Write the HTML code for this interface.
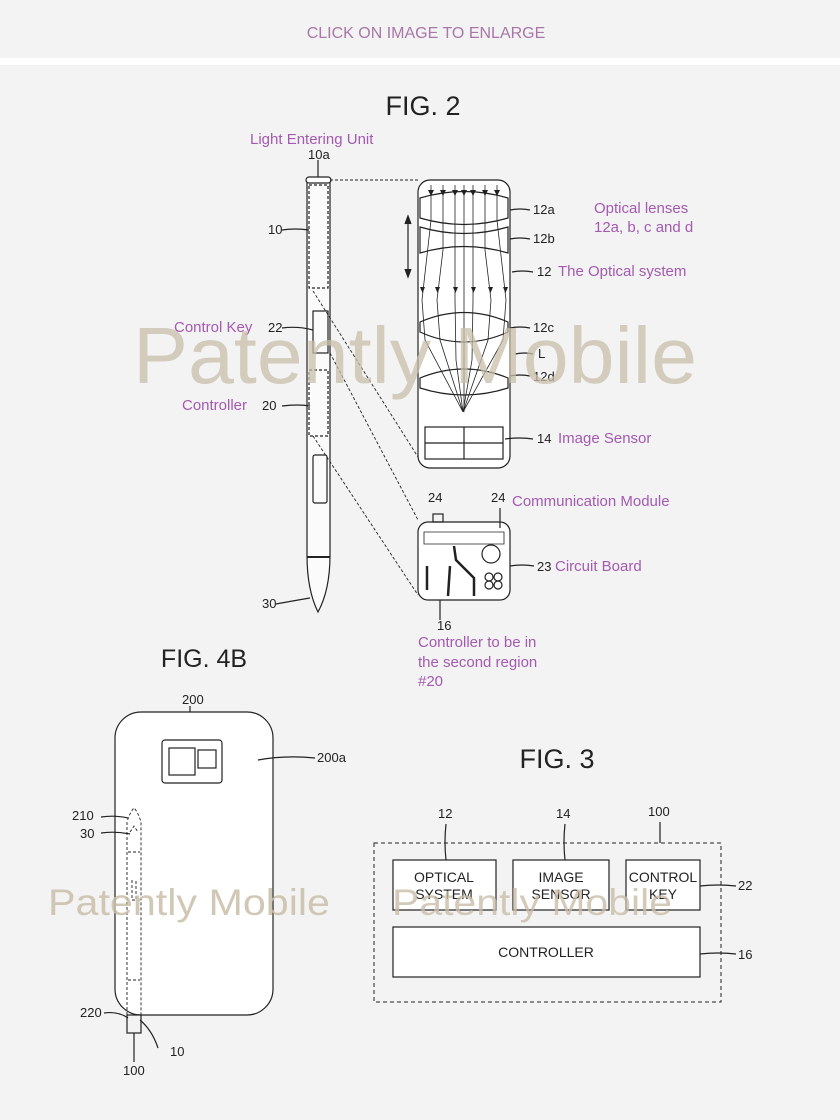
<!DOCTYPE html>
<html><head><meta charset="utf-8"><style>
html,body{margin:0;padding:0;background:#f4f3f4;}
svg{display:block}
</style></head><body>
<svg width="840" height="1120" viewBox="0 0 840 1120" xmlns="http://www.w3.org/2000/svg" font-family="Liberation Sans, sans-serif">
<rect width="840" height="1120" fill="#f4f3f4"/>
<rect y="58" width="840" height="7" fill="#ffffff"/>
<text x="426" y="38" font-size="16" fill="#a777a8" text-anchor="middle">CLICK ON IMAGE TO ENLARGE</text>
<text x="423" y="115" font-size="27" fill="#222" text-anchor="middle">FIG. 2</text>
<g fill="#a35ab0" font-size="15">
<text x="250" y="144">Light Entering Unit</text>
<text x="594" y="213">Optical lenses</text>
<text x="594" y="232">12a, b, c and d</text>
<text x="558" y="276">The Optical system</text>
<text x="174" y="332">Control Key</text>
<text x="182" y="410">Controller</text>
<text x="558" y="443">Image Sensor</text>
<text x="512" y="506">Communication Module</text>
<text x="555" y="571">Circuit Board</text>
<text x="418" y="647">Controller to be in</text>
<text x="418" y="667">the second region</text>
<text x="418" y="686">#20</text>
</g>
<g fill="#222" font-size="13">
<text x="308" y="159">10a</text>
<text x="268" y="234">10</text>
<text x="268" y="332">22</text>
<text x="262" y="410">20</text>
<text x="262" y="608">30</text>
<text x="533" y="214">12a</text>
<text x="533" y="243">12b</text>
<text x="537" y="276">12</text>
<text x="533" y="332">12c</text>
<text x="538" y="358">L</text>
<text x="533" y="381">12d</text>
<text x="537" y="443">14</text>
<text x="428" y="502">24</text>
<text x="491" y="502">24</text>
<text x="537" y="571">23</text>
<text x="437" y="630">16</text>
</g>
<g stroke="#222" fill="none" stroke-width="1.2">
<path d="M307 181 L307 555 Q307 590 318 612 Q330 590 330 555 L330 181 Z" fill="#fbfbfb"/>
<rect x="306" y="177" width="25" height="6" rx="3" fill="#fff"/>
<rect x="309" y="185" width="19" height="103" stroke-dasharray="3 2"/>
<rect x="309" y="370" width="19" height="66" stroke-dasharray="3 2"/>
<rect x="313" y="311" width="15" height="42"/>
<rect x="313" y="455" width="14" height="48" rx="2"/>
<line x1="307" y1="557" x2="330" y2="557" stroke-width="2"/>
<path d="M282 230 Q295 228 309 230 M282 328 Q298 326 313 330 M282 406 Q298 404 310 406 M276 604 Q298 600 310 598 M318 160 L318 177"/>
<g stroke-dasharray="3 2" stroke-width="0.9">
<line x1="330" y1="180" x2="418" y2="180"/>
<line x1="313" y1="291" x2="418" y2="457"/>
<line x1="330" y1="353" x2="418" y2="520"/>
<line x1="313" y1="436" x2="418" y2="595"/>
</g>
<rect x="418" y="180" width="92" height="288" rx="12" fill="#fff"/>
<path d="M420 198 Q464 185 508 198 L508 218 Q464 231 420 218 Z"/>
<path d="M420 227 Q464 240 508 227 L508 253 Q464 240 420 253 Z"/>
<path d="M420 322 Q464 303 508 322 L508 332 Q464 352 420 332 Z"/>
<path d="M420 378 Q464 360 508 378 L508 388 Q464 402 420 388 Z"/>
<g stroke-width="0.8">
<path d="M431 185 L431 220 L422 300 M443 185 L443 250 L437 300 M455 185 L455 300 M464 185 L464 412 M473 185 L473 300 M485 185 L485 250 L491 300 M497 185 L497 220 L506 300"/>
<path d="M422 300 L425 340 L463 412 M437 300 L440 340 L463 412 M455 300 L456 360 L463 412 M473 300 L472 360 L463 412 M491 300 L488 340 L463 412 M506 300 L503 340 L463 412"/>
</g>
<g fill="#222" stroke="none">
<path d="M428 190 h6 l-3 6z M440 190 h6 l-3 6z M452 190 h6 l-3 6z M461 190 h6 l-3 6z M470 190 h6 l-3 6z M482 190 h6 l-3 6z M494 190 h6 l-3 6z"/>
<path d="M420 287 h5 l-2.5 6z M435 287 h5 l-2.5 6z M453 287 h5 l-2.5 6z M471 287 h5 l-2.5 6z M488 287 h5 l-2.5 6z M503 287 h5 l-2.5 6z"/>
</g>
<line x1="408" y1="218" x2="408" y2="275"/>
<path d="M405 224 L408 216 L411 224 M405 269 L408 277 L411 269" fill="#222"/>
<rect x="425" y="427" width="78" height="32"/>
<line x1="464" y1="427" x2="464" y2="459"/><line x1="425" y1="443" x2="503" y2="443"/>
<path d="M510 210 Q520 208 530 210 M510 239 Q520 237 530 239 M512 272 Q522 270 533 272 M510 328 Q520 326 530 328 M515 354 Q525 352 533 354 M510 376 Q520 374 530 376 M505 439 Q520 437 533 439"/>
<rect x="418" y="522" width="92" height="78" rx="10" fill="#fff"/>
<rect x="433" y="514" width="10" height="8"/>
<path d="M424 532 h80 v12 h-80 z" stroke-width="0.8"/>
<circle cx="491" cy="554" r="9"/>
<circle cx="489" cy="577" r="4"/><circle cx="498" cy="577" r="4"/><circle cx="489" cy="585" r="4"/><circle cx="498" cy="585" r="4"/>
<path d="M454 546 L456 560 L474 578 L474 596 M450 566 L448 596 M427 566 v24" stroke-width="2.5"/>
<path d="M510 566 Q522 564 534 566 M500 508 L500 528 M440 600 L440 620"/>
</g>
<text x="133" y="383" font-size="80" fill="#c8bda8" fill-opacity="0.75" textLength="564" lengthAdjust="spacingAndGlyphs">Patently Mobile</text>

<text x="204" y="667" font-size="25" fill="#222" text-anchor="middle">FIG. 4B</text>
<g fill="#222" font-size="13">
<text x="182" y="704">200</text>
<text x="317" y="762">200a</text>
<text x="72" y="820">210</text>
<text x="80" y="838">30</text>
<text x="80" y="1017">220</text>
<text x="170" y="1056">10</text>
<text x="123" y="1075">100</text>
</g>
<g stroke="#222" fill="none" stroke-width="1.2">
<rect x="115" y="712" width="158" height="303" rx="26" fill="#fff"/>
<rect x="162" y="740" width="60" height="43" rx="3"/>
<rect x="169" y="748" width="26" height="27"/>
<rect x="198" y="750" width="18" height="18"/>
<path d="M258 760 Q285 755 315 758 M190 706 L190 712"/>
<g stroke-dasharray="3 2" stroke-width="0.9">
<path d="M127 1015 L127 822 Q130 812 134 808 Q138 812 141 822 L141 1015"/>
<path d="M130 832 L134 826 L138 832 M128 852 h12 M128 980 h12 M132 880 v20 h4 v-20"/>
</g>
<rect x="127" y="1015" width="14" height="18"/>
<path d="M101 817 Q115 815 128 818 M101 833 Q115 831 130 834 M104 1013 Q118 1011 128 1018 M140 1020 Q152 1030 158 1048 M134 1033 L134 1062"/>
</g>
<text x="48" y="915" font-size="37" fill="#c8bda8" fill-opacity="0.85" textLength="282" lengthAdjust="spacingAndGlyphs">Patently Mobile</text>

<text x="557" y="768" font-size="27" fill="#222" text-anchor="middle">FIG. 3</text>
<g fill="#222" font-size="13">
<text x="438" y="818">12</text>
<text x="556" y="818">14</text>
<text x="648" y="816">100</text>
<text x="738" y="890">22</text>
<text x="738" y="959">16</text>
</g>
<g stroke="#222" fill="none" stroke-width="1.2">
<rect x="374" y="843" width="347" height="159" stroke-dasharray="4 3" stroke-width="1"/>
<rect x="393" y="860" width="103" height="50" fill="#fff"/>
<rect x="513" y="860" width="96" height="50" fill="#fff"/>
<rect x="626" y="860" width="74" height="50" fill="#fff"/>
<rect x="393" y="927" width="307" height="50" fill="#fff"/>
<path d="M446 824 Q444 842 446 860 M565 824 Q563 842 565 860 M660 822 L660 843 M700 886 Q718 884 736 886 M700 954 Q718 952 736 954"/>
</g>
<g fill="#222" font-size="14" text-anchor="middle">
<text x="444" y="882">OPTICAL</text><text x="444" y="899">SYSTEM</text>
<text x="561" y="882">IMAGE</text><text x="561" y="899">SENSOR</text>
<text x="663" y="882">CONTROL</text><text x="663" y="899">KEY</text>
<text x="546" y="957">CONTROLLER</text>
</g>
<text x="392" y="915" font-size="37" fill="#c8bda8" fill-opacity="0.8" textLength="280" lengthAdjust="spacingAndGlyphs">Patently Mobile</text>
</svg>
</body></html>
